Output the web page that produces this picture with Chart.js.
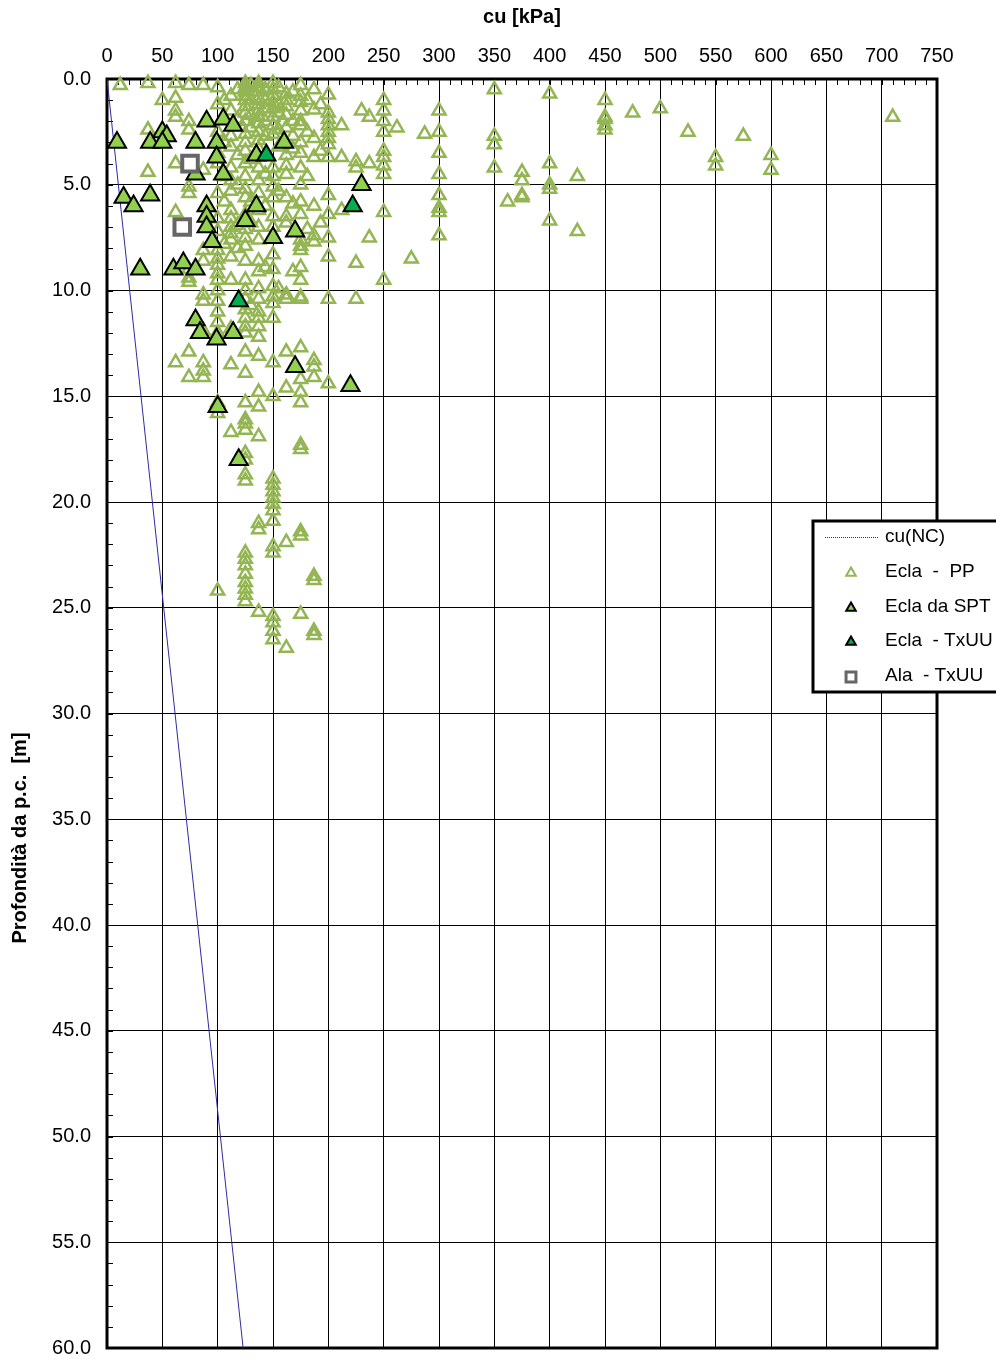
<!DOCTYPE html>
<html>
<head>
<meta charset="utf-8">
<script src="https://cdn.jsdelivr.net/npm/chart.js@4"></script>
<style>
  body { margin: 0; background: #fff; }
  #wrap { width: 996px; height: 1359px; position: relative; }
</style>
</head>
<body>
<div id="wrap"><canvas id="myChart"></canvas></div>
<script>
// valori: cu [kPa] e profondità [m]
var xTicks = [0, 50, 100, 150, 200, 250, 300, 350, 400, 450, 500, 550, 600, 650, 700, 750];
var yTicks = [0, 5, 10, 15, 20, 25, 30, 35, 40, 45, 50, 55, 60];

// cu(NC)
var ncCu = [0, 123];
var ncDepth = [0, 60];

// Ecla - PP (per colonne di cu)
var ppCu = [12, 37, 50, 62, 74, 87, 100, 106, 112, 118, 125, 130, 137, 143, 150, 155, 162, 168, 175, 181, 187, 193, 200,
            212, 225, 230, 237, 250, 262, 275, 287, 300, 350, 362, 375, 400, 425, 450, 475, 500, 525, 550, 575, 600, 710];
var ppDepths = [
  [0.3],
  [0.2, 2.4, 4.4],
  [1.0],
  [0.2, 0.9, 1.5, 1.8, 4.0, 6.3, 13.4],
  [0.3, 2.0, 2.4, 5.1, 5.4, 9.0, 9.4, 9.6, 12.9, 14.1],
  [0.3, 4.3, 8.1, 8.6, 10.2, 10.5, 11.9, 13.4, 13.8, 14.1],
  [0.4, 1.2, 2.5, 3.5, 4.0, 5.4, 6.6, 7.2, 8.1, 8.5, 8.8, 9.2, 9.5, 10.0, 10.5, 11.0, 11.5, 12.0, 15.3, 15.8, 24.2],
  [1.0, 3.0, 4.6, 5.8, 7.8],
  [0.8, 1.5, 2.7, 3.2, 4.2, 4.8, 5.3, 6.2, 6.6, 7.0, 7.3, 7.6, 8.4, 9.5, 11.8, 13.5, 16.7],
  [0.5, 1.9, 3.6, 5.0, 6.9, 8.0],
  [0.2, 0.4, 0.6, 0.8, 1.0, 1.3, 1.6, 2.0, 2.6, 3.0, 3.4, 4.0, 4.6, 5.2, 5.6, 6.4, 7.1, 7.5, 7.9, 8.6, 9.5, 10.0, 10.4,
   10.9, 11.3, 11.7, 12.0, 12.9, 13.9, 15.3, 16.1, 16.3, 16.6, 17.7, 18.0, 18.7, 19.0, 22.4, 22.7, 23.0, 23.4, 23.8,
   24.1, 24.4, 24.7],
  [0.3, 1.0, 1.7, 2.3, 3.8, 5.8, 6.8, 10.7],
  [0.2, 0.4, 0.6, 0.9, 1.2, 1.5, 1.8, 2.1, 2.5, 2.9, 3.3, 4.2, 4.8, 5.4, 6.2, 7.0, 7.6, 8.6, 9.1, 9.9, 10.4, 11.0,
   11.3, 11.7, 12.2, 13.1, 14.8, 15.5, 16.9, 21.0, 21.3, 25.2],
  [0.5, 1.0, 1.4, 2.0, 2.7, 4.5, 6.0, 8.9],
  [0.2, 0.5, 0.8, 1.1, 1.4, 1.8, 2.2, 2.6, 4.2, 4.6, 5.1, 5.6, 6.5, 7.0, 8.3, 9.0, 9.8, 10.3, 10.6, 11.3, 13.4, 15.0,
   18.9, 19.2, 19.5, 19.8, 20.1, 20.4, 20.9, 22.1, 22.4, 25.4, 25.7, 26.1, 26.5],
  [0.4, 1.2, 1.6, 2.4, 3.2, 5.3, 9.9],
  [0.7, 1.0, 1.3, 1.7, 2.3, 3.6, 4.1, 4.5, 5.6, 6.5, 6.8, 10.2, 10.4, 12.9, 14.6, 21.9, 26.9],
  [0.6, 2.0, 2.7, 3.3, 5.9, 9.1],
  [0.3, 0.8, 1.1, 1.5, 2.0, 2.2, 3.0, 3.5, 4.2, 5.0, 5.8, 6.4, 7.6, 7.9, 8.1, 8.9, 9.5, 10.3, 10.4, 12.7, 14.2, 14.8,
   15.3, 17.3, 17.5, 21.4, 21.6, 25.3],
  [1.0, 2.5, 4.6, 7.1],
  [0.5, 1.45, 2.8, 3.7, 6.0, 7.4, 7.7, 13.3, 13.6, 14.1, 23.5, 23.7, 26.1, 26.3],
  [1.2, 3.4, 6.8],
  [0.75, 1.6, 1.9, 2.2, 2.5, 2.8, 3.1, 3.7, 5.5, 6.4, 7.5, 8.4, 10.4, 14.4],
  [2.2, 3.7, 6.2],
  [3.9, 4.2, 8.7, 10.4],
  [1.5],
  [1.8, 4.0, 7.5],
  [1.0, 1.5, 2.0, 2.5, 3.4, 3.7, 4.1, 4.5, 6.3, 9.5],
  [2.3],
  [8.5],
  [2.6],
  [1.5, 2.5, 3.5, 4.5, 5.5, 6.1, 6.3, 7.4],
  [0.5, 2.7, 3.1, 4.2],
  [5.8],
  [4.4, 4.8, 5.5, 5.6],
  [0.7, 4.0, 5.0, 5.2, 6.7],
  [4.6, 7.2],
  [1.0, 1.8, 1.9, 2.2, 2.4],
  [1.6],
  [1.4],
  [2.5],
  [3.7, 4.1],
  [2.7],
  [3.6, 4.3],
  [1.8]
];

// Ecla da SPT
var sptCu = [9, 15, 24, 39, 30, 39, 50, 54, 50, 60, 69, 80, 80, 90, 99, 105, 114, 99, 105, 80, 90, 90, 90, 95,
             125, 135, 150, 170, 160, 135, 230, 80, 84, 99, 114, 170, 220, 100, 119];
var sptDepth = [3.0, 5.6, 6.0, 5.5, 9.0, 3.0, 2.5, 2.7, 3.0, 9.0, 8.7, 9.0, 3.0, 2.0, 3.0, 1.9, 2.2, 3.7, 4.5, 4.5,
                6.0, 6.5, 7.0, 7.7, 6.7, 6.0, 7.5, 7.2, 3.0, 3.6, 5.0, 11.4, 12.0, 12.3, 12.0, 13.6, 14.5, 15.5, 18.0];

// Ecla - TxUU
var txCu = [144, 222, 119];
var txDepth = [3.6, 6.0, 10.5];

// Ala - TxUU
var alaCu = [75, 68];
var alaDepth = [4.0, 7.0];

var seriesNames = ['cu(NC)', 'Ecla  -  PP', 'Ecla da SPT', 'Ecla  - TxUU', 'Ala  - TxUU'];

function pairs(xs, ys) {
    return xs.map(function (v, i) { return { x: v, y: ys[i] }; });
}

var ppPoints = [];
ppCu.forEach(function (cu, i) {
    ppDepths[i].forEach(function (d) { ppPoints.push({ x: cu, y: d }); });
});

var FONT = '"Liberation Sans", Arial, sans-serif';

// cornice, tacche secondarie, titolo asse y e legenda
var extras = {
    id: 'extras',
    beforeDatasetsDraw: function (chart) {
        var ctx = chart.ctx, a = chart.chartArea, sx = chart.scales.x, sy = chart.scales.y;
        ctx.save();
        ctx.strokeStyle = '#000';
        ctx.lineWidth = 1;
        ctx.beginPath();
        for (var v = 0; v <= 750; v += 10) {
            var px = Math.round(sx.getPixelForValue(v)) + 0.5;
            ctx.moveTo(px, a.top);
            ctx.lineTo(px, a.top + 6);
        }
        for (var d = 0; d <= 60; d += 1) {
            var py = Math.round(sy.getPixelForValue(d)) + 0.5;
            ctx.moveTo(a.left, py);
            ctx.lineTo(a.left + 6, py);
        }
        ctx.stroke();
        ctx.lineWidth = 3;
        ctx.strokeRect(a.left, a.top, a.right - a.left, a.bottom - a.top);
        ctx.restore();
    },
    afterDraw: function (chart) {
        var ctx = chart.ctx;
        ctx.save();
        // titolo asse y
        ctx.translate(20, 838);
        ctx.rotate(-Math.PI / 2);
        ctx.font = 'bold 20px ' + FONT;
        ctx.fillStyle = '#000';
        ctx.textAlign = 'center';
        ctx.textBaseline = 'middle';
        ctx.fillText('Profondità da p.c.  [m]', 0, 0);
        ctx.restore();

        // legenda
        ctx.save();
        ctx.fillStyle = '#fff';
        ctx.fillRect(813, 521, 200, 171);
        ctx.strokeStyle = '#000';
        ctx.lineWidth = 3;
        ctx.strokeRect(813, 521, 200, 171);
        var rowY = [537, 572, 607, 641, 676];
        var ds = chart.data.datasets;
        ctx.font = '19px ' + FONT;
        ctx.textBaseline = 'middle';
        ctx.textAlign = 'left';
        ctx.fillStyle = '#000';
        seriesNames.forEach(function (name, i) {
            ctx.fillText(name, 885, rowY[i]);
        });
        ctx.strokeStyle = ds[0].borderColor;
        ctx.lineWidth = 1;
        ctx.setLineDash([1, 1]);
        ctx.beginPath();
        ctx.moveTo(825, rowY[0] + 0.5);
        ctx.lineTo(878, rowY[0] + 0.5);
        ctx.stroke();
        ctx.setLineDash([]);
        for (var i = 1; i < ds.length; i++) {
            var isRect = ds[i].pointStyle === 'rect';
            ctx.fillStyle = ds[i].backgroundColor;
            ctx.strokeStyle = ds[i].borderColor;
            ctx.lineWidth = isRect ? 3 : 2;
            Chart.helpers.drawPoint(ctx, {
                pointStyle: ds[i].pointStyle,
                radius: isRect ? 7 : 5.5,
                borderWidth: isRect ? 3 : 2
            }, 851, rowY[i] + 1);
        }
        ctx.restore();
    }
};

function noPad(scale) {
    scale.paddingTop = 0;
    scale.paddingBottom = 0;
    scale.paddingLeft = 0;
    scale.paddingRight = 0;
}

var ctx = document.getElementById('myChart').getContext('2d');
var chart = new Chart(ctx, {
    type: 'scatter',
    data: {
        datasets: [
            {
                type: 'line',
                label: seriesNames[0],
                data: pairs(ncCu, ncDepth),
                borderColor: '#2b2ba8',
                borderWidth: 1,
                pointRadius: 0,
                fill: false,
                order: 5
            },
            {
                label: seriesNames[1],
                data: ppPoints,
                pointStyle: 'triangle',
                pointRadius: 7.5,
                borderWidth: 2.5,
                borderColor: '#94B553',
                backgroundColor: 'rgba(0,0,0,0)',
                clip: false,
                order: 4
            },
            {
                label: seriesNames[2],
                data: pairs(sptCu, sptDepth),
                pointStyle: 'triangle',
                pointRadius: 10.5,
                borderWidth: 2,
                borderColor: '#000',
                backgroundColor: '#92D050',
                clip: false,
                order: 3
            },
            {
                label: seriesNames[3],
                data: pairs(txCu, txDepth),
                pointStyle: 'triangle',
                pointRadius: 10.5,
                borderWidth: 2,
                borderColor: '#000',
                backgroundColor: '#00B050',
                clip: false,
                order: 2
            },
            {
                label: seriesNames[4],
                data: pairs(alaCu, alaDepth),
                pointStyle: 'rect',
                pointRadius: 11,
                borderWidth: 4,
                borderColor: '#666666',
                backgroundColor: '#ffffff',
                clip: false,
                order: 1
            }
        ]
    },
    options: {
        responsive: true,
        maintainAspectRatio: false,
        animation: false,
        layout: { autoPadding: false, padding: { left: 0, top: 0, right: 59, bottom: 11 } },
        plugins: {
            legend: { display: false },
            tooltip: { enabled: false }
        },
        scales: {
            x: {
                type: 'linear',
                position: 'top',
                min: 0,
                max: 750,
                afterBuildTicks: function (scale) {
                    scale.ticks = xTicks.map(function (v) { return { value: v }; });
                },
                afterFit: function (scale) { scale.height = 79; noPad(scale); },
                grid: { color: '#000', lineWidth: 1, drawTicks: false },
                border: { display: false },
                ticks: {
                    color: '#000',
                    padding: 11,
                    font: { family: FONT, size: 20 }
                },
                title: {
                    display: true,
                    text: 'cu [kPa]',
                    color: '#000',
                    padding: { top: 5, bottom: 8 },
                    font: { family: FONT, size: 20, weight: 'bold' }
                }
            },
            y: {
                type: 'linear',
                reverse: true,
                min: 0,
                max: 60,
                afterBuildTicks: function (scale) {
                    scale.ticks = yTicks.map(function (v) { return { value: v }; });
                },
                afterFit: function (scale) { scale.width = 107; noPad(scale); },
                grid: { color: '#000', lineWidth: 1, drawTicks: false },
                border: { display: false },
                ticks: {
                    color: '#000',
                    padding: 16,
                    font: { family: FONT, size: 20 },
                    callback: function (v) { return Number(v).toFixed(1); }
                }
            }
        }
    },
    plugins: [extras]
});
</script>
</body>
</html>
